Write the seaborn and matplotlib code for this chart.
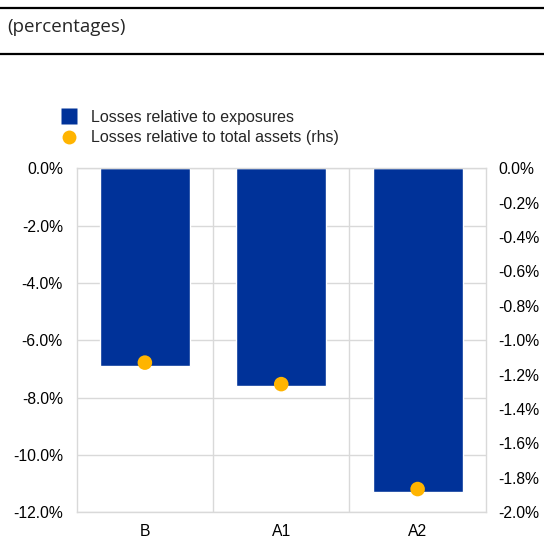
import matplotlib
matplotlib.use("Agg")
import matplotlib.pyplot as plt
import matplotlib.ticker as mtick
from matplotlib.lines import Line2D
import seaborn as sns
import pandas as pd

# values
categories = ["B", "A1", "A2"]
losses_exposures = [-6.9, -7.6, -11.3]       # percent, left axis
losses_total_assets = [-1.13, -1.255, -1.865]  # percent, right axis (rhs)

BLUE = "#003299"
YELLOW = "#FFB400"
GRID = "#d9d9d9"


def main():
    sns.set_theme(style="white")
    plt.rcParams["font.family"] = ["Liberation Sans", "DejaVu Sans"]

    df = pd.DataFrame({
        "scenario": categories,
        "exposures": losses_exposures,
        "assets": losses_total_assets,
    })

    fig = plt.figure(figsize=(5.44, 5.38), dpi=100)
    ax = fig.add_axes([0.141, 0.0478, 0.752, 0.6395])

    sns.barplot(data=df, x="scenario", y="exposures", color=BLUE,
                width=0.66, saturation=1, ax=ax, zorder=2)
    ax.set_ylim(-12, 0)
    ax.set_yticks([0, -2, -4, -6, -8, -10, -12])
    ax.yaxis.set_major_formatter(mtick.FuncFormatter(lambda v, p: f"{v:.1f}%"))
    ax.set_xlim(-0.5, 2.5)
    ax.set_xlabel("")
    ax.set_ylabel("")
    ax.grid(axis="y", color=GRID, linewidth=1, zorder=0)
    for xb in [0.5, 1.5]:
        ax.axvline(xb, color=GRID, linewidth=1, zorder=0)
    for s in ax.spines.values():
        s.set_color(GRID)
        s.set_linewidth(1)
    ax.tick_params(axis="both", length=0, labelsize=11.3, colors="black")
    ax.tick_params(axis="y", pad=10)
    ax.tick_params(axis="x", pad=8.5)

    ax2 = ax.twinx()
    sns.scatterplot(data=df, x="scenario", y="assets", color=YELLOW, s=110,
                    edgecolor="none", ax=ax2, zorder=3)
    ax2.set_ylim(-2.0, 0)
    ax2.set_yticks([0, -0.2, -0.4, -0.6, -0.8, -1.0, -1.2, -1.4, -1.6, -1.8, -2.0])
    ax2.yaxis.set_major_formatter(mtick.FuncFormatter(lambda v, p: f"{v:.1f}%"))
    ax2.set_ylabel("")
    ax2.set_xlabel("")
    ax2.tick_params(axis="y", length=0, labelsize=11.3, colors="black", pad=9)
    for s in ax2.spines.values():
        s.set_visible(False)
    ax2.set_xlim(-0.5, 2.5)

    # legend
    handles = [
        Line2D([], [], marker="s", linestyle="none", markersize=11,
               markerfacecolor=BLUE, markeredgecolor="none"),
        Line2D([], [], marker="o", linestyle="none", markersize=10,
               markerfacecolor=YELLOW, markeredgecolor="none"),
    ]
    fig.legend(handles, ["Losses relative to exposures",
                         "Losses relative to total assets (rhs)"],
               loc="upper left", bbox_to_anchor=(0.098, 1 - 110 / 538),
               frameon=False, fontsize=11.5, handletextpad=0.35,
               labelspacing=0.32, borderaxespad=0, borderpad=0)

    # header band
    fig.add_artist(Line2D([0, 1], [1 - 8 / 538, 1 - 8 / 538], color="black",
                          linewidth=1.6, transform=fig.transFigure))
    fig.add_artist(Line2D([0, 1], [1 - 54 / 538, 1 - 54 / 538], color="black",
                          linewidth=1.6, transform=fig.transFigure))
    fig.text(7 / 544, 1 - 27 / 538, "(percentages)", ha="left", va="center",
             fontsize=13.5, family=["Open Sans", "DejaVu Sans"])

    fig.savefig("out.png", dpi=100)


if __name__ == "__main__":
    main()
